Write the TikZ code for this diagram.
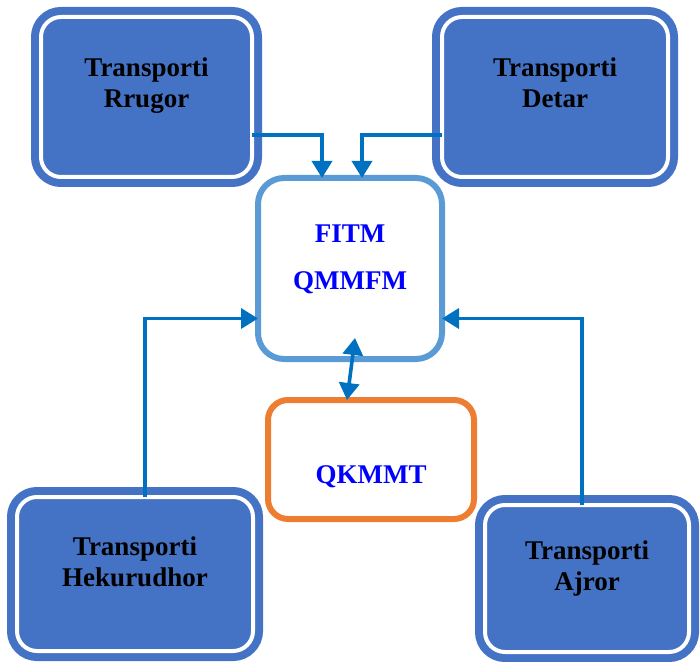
\documentclass[tikz,border=0pt]{standalone}
\usepackage{fontspec}
\setmainfont{Liberation Serif}
\usetikzlibrary{arrows.meta}

\definecolor{modeblue}{HTML}{4472C4}
\definecolor{linkblue}{HTML}{0070C0}
\definecolor{fitmblue}{HTML}{5B9BD5}
\definecolor{qkorange}{HTML}{ED7D31}

\tikzset{
  mode/.style={draw=modeblue, fill=modeblue, line width=4pt, double=white,
    double distance=2pt, rounded corners=10pt, outer sep=0pt, inner sep=0pt},
  modetext/.style={align=center, font=\fontsize{13.5}{15.5}\selectfont\bfseries},
  hubbox/.style={draw=#1, fill=white, line width=3pt, rounded corners=13pt,
    outer sep=0pt, inner sep=0pt},
  hubtext/.style={align=center, text=blue, font=\fontsize{13.5}{23.5}\selectfont\bfseries},
  link/.style={draw=linkblue, line width=1.8pt},
}

\begin{document}
\begin{tikzpicture}[x=0.5pt, y=-0.5pt, >={Triangle[width=10pt,length=8.5pt]}]
\useasboundingbox (0,0) rectangle (700,662);

% the four transport modes
\node[mode, minimum width=105.5pt, minimum height=80pt] (rrugor) at (146.5,97) {};
\node[modetext] (rrugor-text) at ([yshift=5.5pt]rrugor.center) {Transporti\\Rrugor};

\node[mode, minimum width=113pt, minimum height=80pt] (detar) at (555,97) {};
\node[modetext] (detar-text) at ([yshift=7pt]detar.center) {Transporti\\Detar};

\node[mode, minimum width=118pt, minimum height=77pt] (hekurudhor) at (135,574) {};
\node[modetext] (hekurudhor-text) at ([yshift=6pt]hekurudhor.center) {Transporti\\Hekurudhor};

\node[mode, minimum width=102pt, minimum height=73.5pt] (ajror) at (587,578.5) {};
\node[modetext] (ajror-text) at ([yshift=4.75pt]ajror.center) {Transporti\\Ajror};

% institutions
\node[hubbox=fitmblue, minimum width=92pt, minimum height=90.5pt] (fitm) at (350,268.5) {};
\node[hubtext] (fitm-text) at ([yshift=4.5pt]fitm.center) {FITM\\QMMFM};

\node[hubbox=qkorange, rounded corners=10pt, minimum width=103pt, minimum height=59.5pt] (qkmmt) at (371,459.5) {};
\node[hubtext] (qkmmt-text) at ([yshift=-8.75pt]qkmmt.center) {QKMMT};

% links
\draw[link, ->] ([yshift=-19pt]rrugor.east) -| ([xshift=-14pt]fitm.north);
\draw[link, ->] ([yshift=-19pt]detar.west) -| ([xshift=6pt]fitm.north);
\draw[link, ->] ([xshift=5pt]hekurudhor.north) |- ([yshift=-25pt]fitm.west);
\draw[link, ->] ([xshift=-2.5pt]ajror.north) |- ([yshift=-25pt]fitm.east);
\draw[link, <->] ([xshift=-12pt]qkmmt.north) -- ([shift={(2.5pt,10.5pt)}]fitm.south);
\end{tikzpicture}
\end{document}
